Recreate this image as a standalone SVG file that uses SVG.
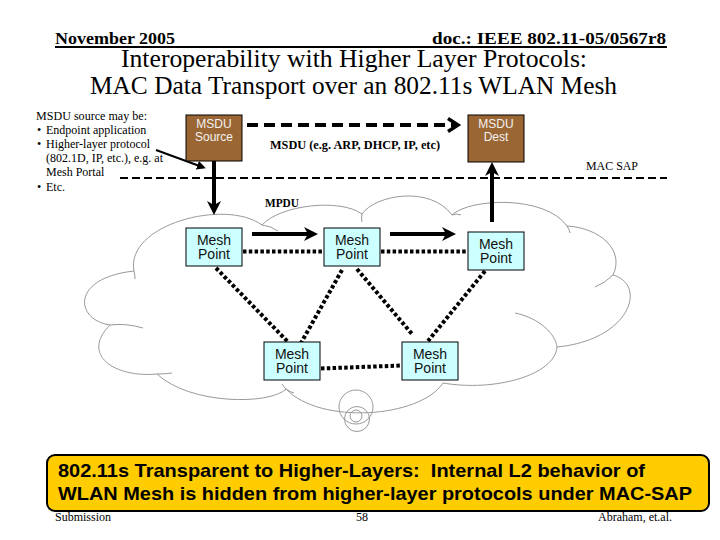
<svg xmlns="http://www.w3.org/2000/svg" width="720" height="540" viewBox="0 0 720 540">
<style>
.tnr{font-family:"Liberation Serif","Times New Roman",serif;fill:#000}
.ar{font-family:"Liberation Sans",Arial,sans-serif}
.msdu rect{fill:#9A6634;stroke:#000;stroke-width:1}
.msdu text{font-family:"Liberation Sans",Arial,sans-serif;font-size:12px;fill:#F2F2F2;text-anchor:middle}
.mp rect{fill:#CCFFFF;stroke:#000;stroke-width:1}
.mp text{font-family:"Liberation Sans",Arial,sans-serif;font-size:14px;fill:#111;text-anchor:middle}
.cloud{fill:none;stroke:#999;stroke-width:1}
.dot{stroke:#000;stroke-width:4;stroke-dasharray:3.5 2.3;fill:none}
.thick{stroke:#000;stroke-width:4;fill:none}
</style>
<defs>
<marker id="ah" markerUnits="userSpaceOnUse" markerWidth="16" markerHeight="16" refX="8" refY="7" orient="auto">
<path d="M0,0 L14,7 L0,14 L4,7 z" fill="#000"/>
</marker>
<marker id="ahs" markerUnits="userSpaceOnUse" markerWidth="12" markerHeight="12" refX="6" refY="4.5" orient="auto">
<path d="M0,0 L9,4.5 L0,9 z" fill="#000"/>
</marker>
<marker id="ahopen" markerUnits="userSpaceOnUse" markerWidth="18" markerHeight="18" refX="10" refY="8" orient="auto">
<path d="M2,1.5 L12,8 L2,14.5" fill="none" stroke="#000" stroke-width="3.5"/>
</marker>
</defs>

<g id="header">
<text class="tnr" x="55" y="43.5" font-size="16" font-weight="bold" textLength="120" lengthAdjust="spacingAndGlyphs">November 2005</text>
<text class="tnr" x="666" y="43.5" font-size="16" font-weight="bold" text-anchor="end" textLength="234" lengthAdjust="spacingAndGlyphs">doc.: IEEE 802.11-05/0567r8</text>
<line x1="55" y1="47" x2="667" y2="47" stroke="#000" stroke-width="2"/>
<text class="tnr" x="121" y="67.3" font-size="25" textLength="466" lengthAdjust="spacingAndGlyphs">Interoperability with Higher Layer Protocols:</text>
<text class="tnr" x="90" y="94.3" font-size="25" textLength="527" lengthAdjust="spacingAndGlyphs">MAC Data Transport over an 802.11s WLAN Mesh</text>
</g>

<g id="source-note" class="tnr" font-size="12">
<text x="36" y="120" textLength="111" lengthAdjust="spacingAndGlyphs">MSDU source may be:</text>
<text x="37" y="134">•</text><text x="46" y="134">Endpoint application</text>
<text x="37" y="148">•</text><text x="46" y="148">Higher-layer protocol</text>
<text x="46" y="162">(802.1D, IP, etc.), e.g. at</text>
<text x="46" y="176">Mesh Portal</text>
<text x="37" y="191">•</text><text x="46" y="191">Etc.</text>
</g>

<g id="cloud">
<path d="M134,271 C125,225 225,198 262,225 C280,205 340,198 362,214 C375,195 430,185 452,215 C470,198 545,195 567,226 C600,228 625,250 613,275 C648,285 630,340 557,347 C555,375 495,392 443,383 C420,418 320,425 286,389 C270,405 190,405 157,374 C115,378 80,355 110,325 C75,320 70,278 134,271 Z" fill="#fff" stroke="#999" stroke-width="1"/>
<path class="cloud" d="M262,225 Q271,226 278,231"/>
<path class="cloud" d="M110,325 Q126,323 143,328"/>
<path class="cloud" d="M134,271 Q135,275 135,279"/>
<path class="cloud" d="M157,374 Q165,374 172,373"/>
<path class="cloud" d="M286,389 Q290,392 294,393"/>
<path class="cloud" d="M286,389 Q284,387 282,384"/>
<path class="cloud" d="M557,347 C556,335 540,318 515,313"/>
<path class="cloud" d="M613,275 Q605,283 595,287"/>
<path class="cloud" d="M567,226 Q569,229 570,233"/>
<path class="cloud" d="M362,214 Q361,218 362,222"/>
<path class="cloud" d="M452,215 Q456,213 461,215"/>
<circle class="cloud" cx="356" cy="407" r="17"/>
<circle class="cloud" cx="357" cy="419" r="12.5"/>
<circle class="cloud" cx="356" cy="416" r="6"/>
</g>

<g id="connectors">
<line x1="120" y1="178" x2="667" y2="178" stroke="#000" stroke-width="2" stroke-dasharray="8 4"/>
<line x1="247" y1="125" x2="456" y2="125" stroke="#000" stroke-width="4" stroke-dasharray="11 6" marker-end="url(#ahopen)"/>
<line x1="156" y1="150" x2="203" y2="167.3" stroke="#000" stroke-width="2" marker-end="url(#ahs)"/>
<line class="thick" x1="214" y1="161" x2="214" y2="209" marker-end="url(#ah)"/>
<line class="thick" x1="492" y1="222" x2="492" y2="168" marker-end="url(#ah)"/>
<line class="thick" x1="252" y1="234" x2="312" y2="234" marker-end="url(#ah)"/>
<line class="thick" x1="390" y1="234" x2="450" y2="234" marker-end="url(#ah)"/>
<line class="dot" x1="243" y1="251.5" x2="324" y2="251.5"/>
<line class="dot" x1="381" y1="251.5" x2="468" y2="251.5"/>
<line class="dot" x1="216" y1="268" x2="288" y2="342"/>
<line class="dot" x1="342" y1="270" x2="301" y2="343"/>
<line class="dot" x1="357" y1="269" x2="412" y2="334"/>
<line class="dot" x1="485" y1="271" x2="428" y2="341"/>
<line class="dot" x1="321" y1="368.5" x2="402" y2="365.5"/>
</g>

<g id="labels" class="tnr" font-size="12">
<text x="270" y="149" font-weight="bold" textLength="170" lengthAdjust="spacingAndGlyphs">MSDU (e.g. ARP, DHCP, IP, etc)</text>
<text x="586" y="170" textLength="52" lengthAdjust="spacingAndGlyphs">MAC SAP</text>
<text x="265" y="207" font-weight="bold" textLength="34" lengthAdjust="spacingAndGlyphs">MPDU</text>
</g>

<g id="msdu-source" class="msdu">
<rect x="186" y="115" width="56" height="46"/>
<text x="214" y="128">MSDU</text><text x="214" y="140.5">Source</text>
</g>
<g id="msdu-dest" class="msdu">
<rect x="468" y="115" width="56" height="47"/>
<text x="496" y="128">MSDU</text><text x="496" y="140.5">Dest</text>
</g>

<g id="mesh-point-1" class="mp">
<rect x="186" y="228" width="56" height="38"/>
<text x="214" y="244.5">Mesh</text><text x="214" y="259">Point</text>
</g>
<g id="mesh-point-2" class="mp">
<rect x="324" y="228" width="56" height="38"/>
<text x="352" y="244.5">Mesh</text><text x="352" y="259">Point</text>
</g>
<g id="mesh-point-3" class="mp">
<rect x="468" y="232" width="56" height="38"/>
<text x="496" y="248.5">Mesh</text><text x="496" y="263">Point</text>
</g>
<g id="mesh-point-4" class="mp">
<rect x="264" y="342" width="56" height="38"/>
<text x="292" y="358.5">Mesh</text><text x="292" y="373">Point</text>
</g>
<g id="mesh-point-5" class="mp">
<rect x="402" y="342" width="56" height="38"/>
<text x="430" y="358.5">Mesh</text><text x="430" y="373">Point</text>
</g>

<g id="summary">
<rect x="47" y="455" width="662" height="56" rx="8" ry="8" fill="#FFCC00" stroke="#000" stroke-width="2"/>
<text class="ar" x="58" y="477" font-size="19" font-weight="bold" xml:space="preserve" textLength="587" lengthAdjust="spacingAndGlyphs">802.11s Transparent to Higher-Layers:  Internal L2 behavior of</text>
<text class="ar" x="58" y="500" font-size="19" font-weight="bold" textLength="634" lengthAdjust="spacingAndGlyphs">WLAN Mesh is hidden from higher-layer protocols under MAC-SAP</text>
</g>

<g id="footer" class="tnr" font-size="12">
<text x="55" y="521">Submission</text>
<text x="362" y="521" text-anchor="middle">58</text>
<text x="672" y="521" text-anchor="end">Abraham, et.al.</text>
</g>
</svg>
